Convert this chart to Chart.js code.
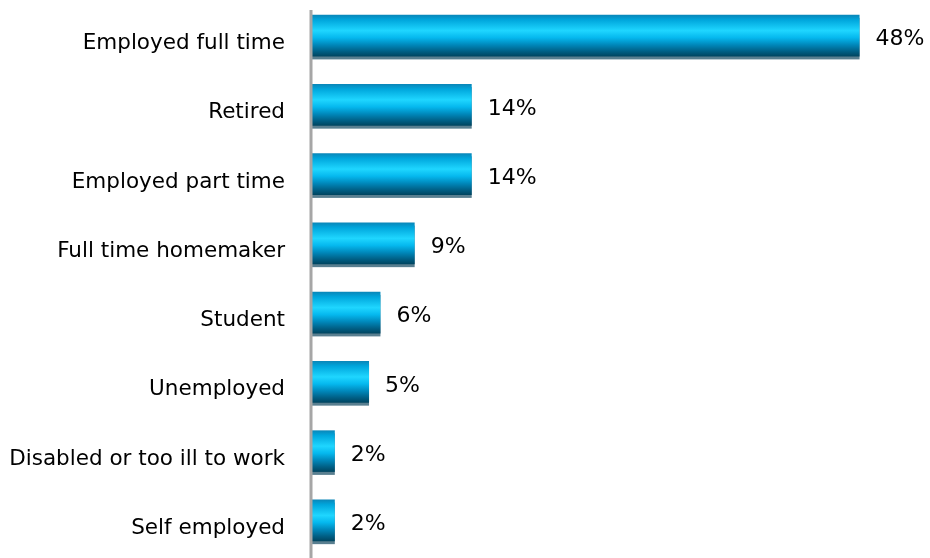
<!DOCTYPE html>
<html>
<head>
<meta charset="utf-8">
<script src="https://cdn.jsdelivr.net/npm/chart.js@4/dist/chart.umd.min.js"></script>
<style>
  html, body { margin: 0; padding: 0; background: #fff; }
  #wrap { width: 930px; height: 558px; }
</style>
</head>
<body>
<div id="wrap"><canvas id="c" width="930" height="558"></canvas></div>
<script>
// Employment status, share of respondents (%)
const categories = [
  'Employed full time',
  'Retired',
  'Employed part time',
  'Full time homemaker',
  'Student',
  'Unemployed',
  'Disabled or too ill to work',
  'Self employed'
];
const shares = [48, 14, 14, 9, 6, 5, 2, 2];
const valueLabels = ['48%', '14%', '14%', '9%', '6%', '5%', '2%', '2%'];

const FONT = '"DejaVu Sans", sans-serif';
const BAR_PCT = 0.6;

// Glossy cylinder gradient, built per bar from its pixel band on the category scale
function barGradient(context) {
  const chart = context.chart;
  const y = chart.scales.y;
  if (!y || !chart.chartArea || context.dataIndex === undefined) return '#00b0e8';
  const center = y.getPixelForValue(context.dataIndex);
  const band = (y.bottom - y.top) / categories.length * BAR_PCT;
  const top = center - band / 2;
  const bottom = center + band / 2;
  const g = chart.ctx.createLinearGradient(0, top, 0, bottom);
  g.addColorStop(0.00, '#0a86b8');
  g.addColorStop(0.12, '#00a6dc');
  g.addColorStop(0.38, '#1fd6ff');
  g.addColorStop(0.55, '#05b8ee');
  g.addColorStop(0.72, '#0088bb');
  g.addColorStop(0.88, '#005f85');
  g.addColorStop(1.00, '#00445f');
  return g;
}

const decorations = {
  id: 'decorations',
  beforeDatasetsDraw(chart) {
    const ctx = chart.ctx;
    const meta = chart.getDatasetMeta(0);
    // soft base shadow under every bar
    ctx.save();
    ctx.fillStyle = 'rgba(60,105,125,0.85)';
    meta.data.forEach((bar) => {
      const top = bar.y - bar.height / 2;
      ctx.fillRect(bar.base, top + 3, bar.x - bar.base, bar.height);
    });
    ctx.restore();
  },
  afterDatasetsDraw(chart) {
    const ctx = chart.ctx;
    const meta = chart.getDatasetMeta(0);
    const x0 = chart.scales.x.getPixelForValue(0);
    ctx.save();
    ctx.fillStyle = '#000';
    ctx.textBaseline = 'middle';
    meta.data.forEach((bar, i) => {
      // value label after the bar end
      ctx.font = '22px ' + FONT;
      ctx.textAlign = 'left';
      ctx.fillText(valueLabels[i], bar.x + 16, bar.y + 4);
      // category label left of the axis
      ctx.font = '21.5px ' + FONT;
      ctx.textAlign = 'right';
      ctx.fillText(categories[i], x0 - 27, bar.y + 8);
    });
    // vertical category axis line
    ctx.strokeStyle = '#a6a6a6';
    ctx.lineWidth = 3;
    ctx.beginPath();
    ctx.moveTo(x0 - 1, 10);
    ctx.lineTo(x0 - 1, chart.height);
    ctx.stroke();
    ctx.restore();
  }
};

new Chart(document.getElementById('c'), {
  type: 'bar',
  data: {
    labels: categories,
    datasets: [{
      data: shares,
      backgroundColor: barGradient,
      borderWidth: 0,
      barPercentage: BAR_PCT,
      categoryPercentage: 1.0
    }]
  },
  options: {
    indexAxis: 'y',
    responsive: false,
    animation: false,
    events: [],
    layout: { padding: { top: 1, bottom: 3, right: 2, left: 0 } },
    plugins: {
      legend: { display: false },
      tooltip: { enabled: false }
    },
    scales: {
      x: {
        min: 0,
        max: 54,
        display: false
      },
      y: {
        grid: { display: false, drawTicks: false },
        border: { display: false },
        ticks: { display: false },
        afterFit(scale) {
          scale.width = 312;
          scale.paddingTop = 0;
          scale.paddingBottom = 0;
        }
      }
    }
  },
  plugins: [decorations]
});
</script>
</body>
</html>
